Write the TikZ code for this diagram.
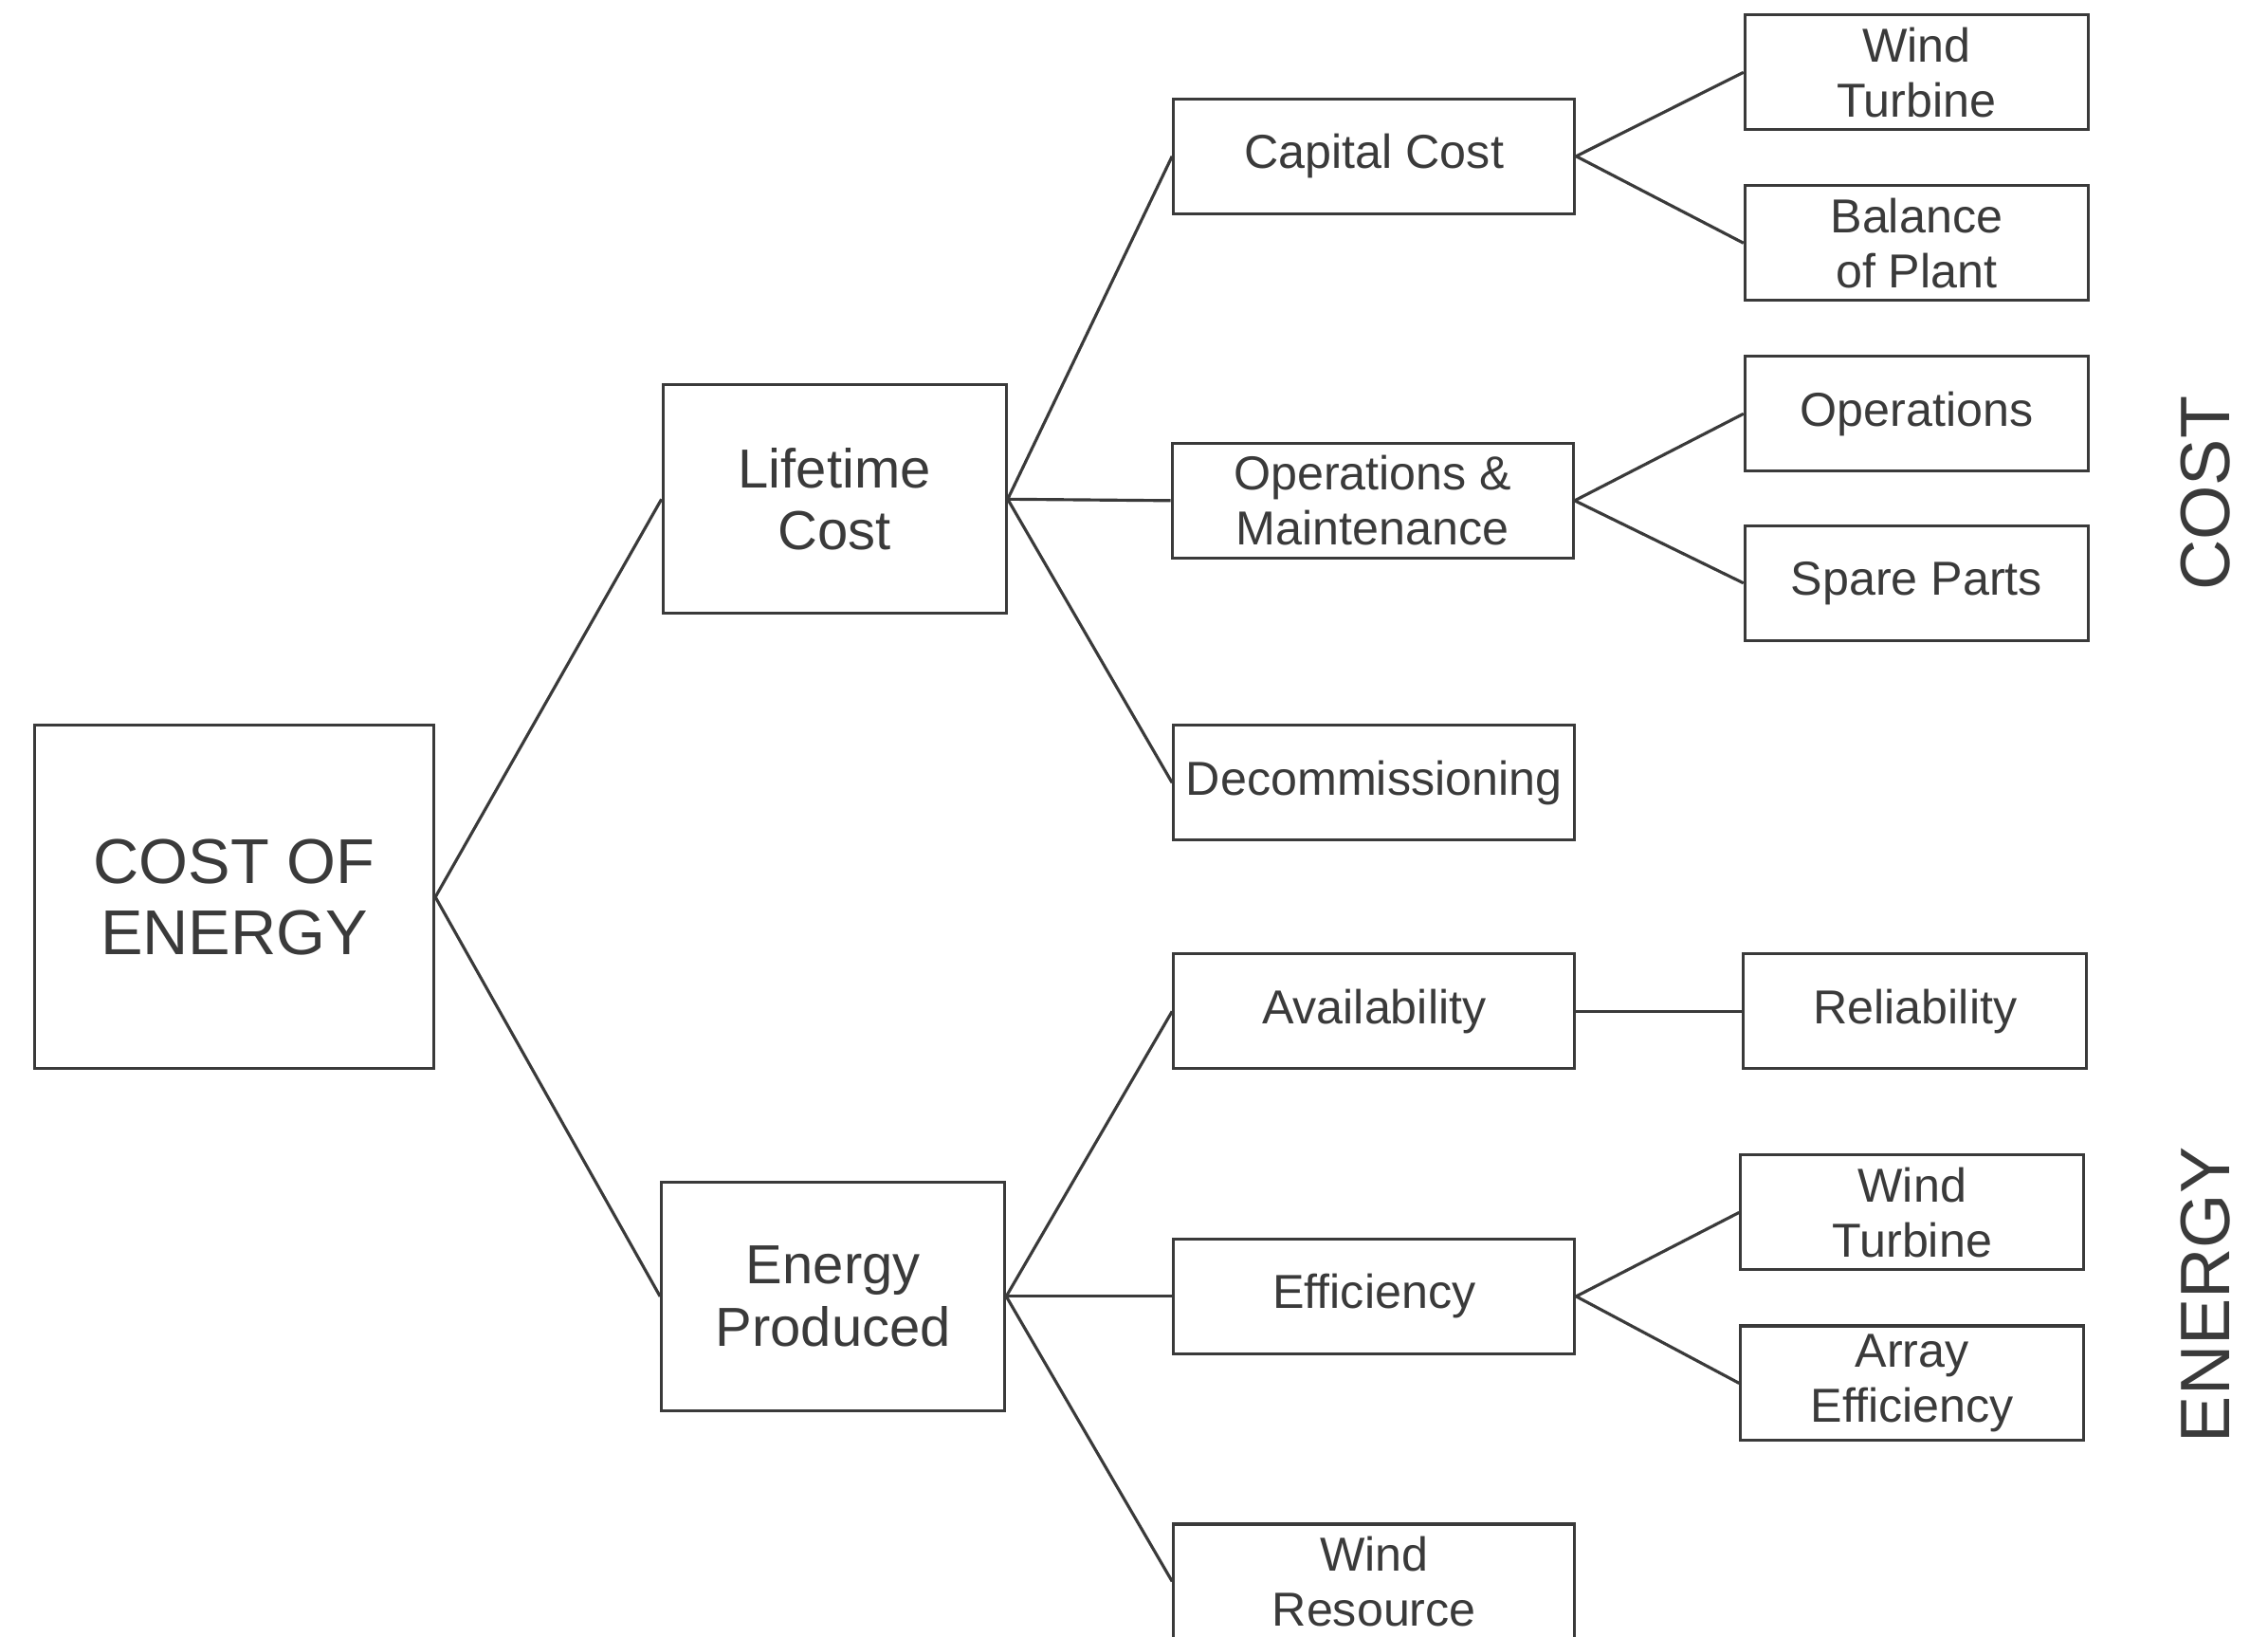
\documentclass[tikz,border=0pt]{standalone}
\usepackage{fontspec}
\setmainfont{Liberation Sans}
\definecolor{ink}{HTML}{3A3A3A}
\tikzset{
  box/.style={draw=ink, line width=0.9pt, text=ink, align=center, inner sep=1pt},
  rootbox/.style={box, minimum width=4.21cm, minimum height=3.62cm, font=\fontsize{19}{21.3}\selectfont},
  midbox/.style={box, minimum width=3.62cm, minimum height=2.41cm, font=\fontsize{16.5}{18.6}\selectfont},
  subbox/.style={box, minimum width=4.23cm, minimum height=1.21cm, font=\fontsize{14.3}{16.5}\selectfont},
  leafbox/.style={box, minimum width=3.62cm, minimum height=1.21cm, font=\fontsize{14.3}{16.5}\selectfont},
  sidelabel/.style={text=ink, rotate=90, font=\fontsize{21}{24}\selectfont},
  link/.style={draw=ink, line width=0.9pt}
}
\begin{document}
\begin{tikzpicture}[x=0.015255cm, y=-0.015255cm]
    \useasboundingbox (0,0) rectangle (1568,1131);
    % root and the two main branches
    \node[rootbox] (coe) at (162,620) {COST OF\\ENERGY};
    \node[midbox] (life) at (577,345) {Lifetime\\Cost};
    \node[midbox] (energy) at (576,896) {Energy\\Produced};
    % cost side
    \node[subbox] (capital) at (950,108) {Capital Cost};
    \node[subbox] (om) at (949,346) {Operations \&\\Maintenance};
    \node[subbox] (decom) at (950,541) {Decommissioning};
    \node[leafbox] (turbA) at (1325,50) {Wind\\Turbine};
    \node[leafbox] (bop) at (1325,168) {Balance\\of Plant};
    \node[leafbox] (ops) at (1325,286) {Operations};
    \node[leafbox] (spare) at (1325,403) {Spare Parts};
    % energy side
    \node[subbox] (avail) at (950,699) {Availability};
    \node[subbox] (effic) at (950,896) {Efficiency};
    \node[subbox] (windres) at (950,1093) {Wind\\Resource};
    \node[leafbox] (reliab) at (1324,699) {Reliability};
    \node[leafbox] (turbB) at (1322,838) {Wind\\Turbine};
    \node[leafbox] (array) at (1322,956) {Array\\Efficiency};
    % side labels
    \node[sidelabel] (costlbl) at (1525,341) {COST};
    \node[sidelabel] (energylbl) at (1525,895) {ENERGY};
    % connectors
    \draw[link] (coe.east) -- (life.west);
    \draw[link] (coe.east) -- (energy.west);
    \foreach \n in {capital, om, decom}
        \draw[link] (life.east) -- (\n.west);
    \foreach \n in {avail, effic, windres}
        \draw[link] (energy.east) -- (\n.west);
    \draw[link] (capital.east) -- (turbA.west);
    \draw[link] (capital.east) -- (bop.west);
    \draw[link] (om.east) -- (ops.west);
    \draw[link] (om.east) -- (spare.west);
    \draw[link] (avail.east) -- (reliab.west);
    \draw[link] (effic.east) -- (turbB.west);
    \draw[link] (effic.east) -- (array.west);
\end{tikzpicture}
\end{document}
